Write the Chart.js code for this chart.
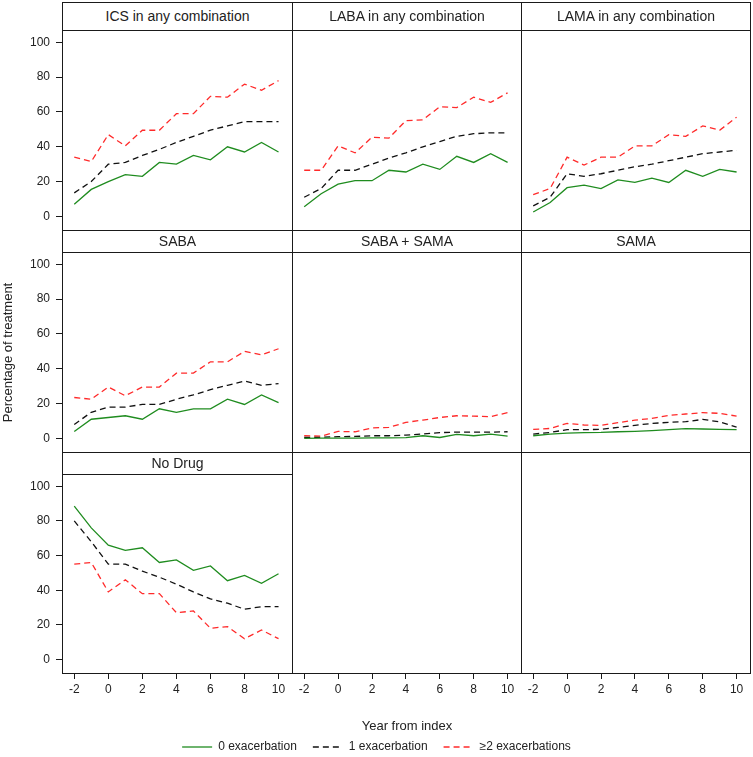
<!DOCTYPE html>
<html>
<head>
<meta charset="utf-8">
<title>Percentage of treatment by year from index</title>
<script src="https://cdn.jsdelivr.net/npm/chart.js@4.4.0/dist/chart.umd.min.js"></script>
<style>
    body { margin: 0; background: #fff; }
    #wrap { position: relative; width: 753px; height: 757px; overflow: hidden;
            font-family: "Liberation Sans", Arial, sans-serif; }
    #wrap canvas { position: absolute; }
    .strip { position: absolute; box-sizing: border-box; border: 1px solid #1a1a1a;
             text-align: center; font-size: 14px; color: #222; }
</style>
</head>
<body>
<div id="wrap"></div>
<script>
// data (percent of patients, by year from index)
var years = [-2, -1, 0, 1, 2, 3, 4, 5, 6, 7, 8, 9, 10];
var xTickValues = [-2, 0, 2, 4, 6, 8, 10];
var yTickValues = [0, 20, 40, 60, 80, 100];
var seriesNames = ['0 exacerbation', '1 exacerbation', '\u22652 exacerbations'];

var icsZero = [7, 15.5, 20, 24, 23, 31, 30, 35, 32.5, 40, 37, 42.5, 37];
var icsOne = [13.5, 20, 30, 31, 35, 38.5, 42.5, 46, 49.5, 52, 54.5, 54.5, 54.5];
var icsTwo = [34, 31.5, 47, 40.5, 49.5, 49.5, 59, 59, 69, 68.5, 76, 72.5, 78];

var labaZero = [5.5, 13, 18.5, 20.5, 20.5, 26.5, 25.5, 30, 27, 34.5, 31, 36, 31];
var labaOne = [11, 16, 26.5, 26.5, 30, 33.5, 36.5, 40, 43, 46, 47.5, 48, 48];
var labaTwo = [26.5, 26.5, 40.5, 36.5, 45.5, 45, 55, 55.5, 63, 62.5, 68.5, 65.5, 71];

var lamaZero = [2.5, 8, 16.5, 18, 16, 21, 19.5, 22, 19.5, 26.5, 23, 27, 25.5];
var lamaOne = [6, 11, 24.5, 23, 24.5, 26.5, 28.5, 30, 32, 34, 36, 37, 38];
var lamaTwo = [12.5, 16, 34, 29.5, 34, 34, 40.5, 40.5, 47, 46, 52, 49.5, 57];

var sabaZero = [4, 11, 12, 13, 11, 17, 15, 17, 17, 22.5, 19.5, 25, 20.5];
var sabaOne = [8, 15, 18, 18, 19.5, 19.5, 22.5, 25, 28, 30.5, 33, 30.5, 31.5];
var sabaTwo = [23.5, 22.5, 29.5, 24.5, 29.5, 29.5, 37.5, 37.5, 44, 44, 50, 48, 51.5];

var sabaSamaZero = [0, 0.1, 0.2, 0.2, 0.3, 0.3, 0.4, 1.5, 0.5, 2.3, 1.5, 2.5, 1.3];
var sabaSamaOne = [0.6, 0.6, 1, 1.1, 1.5, 1.5, 1.9, 2.5, 3.3, 3.6, 3.6, 3.6, 3.8];
var sabaSamaTwo = [1.5, 1.3, 4, 3.8, 6, 6.3, 9.2, 10.5, 12, 13, 12.8, 12.5, 14.8];

var samaZero = [1.5, 2.5, 3, 3.3, 3.4, 3.8, 4, 4.4, 5, 5.6, 5.4, 5.2, 5];
var samaOne = [2.5, 3.4, 5, 5, 5.2, 6.3, 7.5, 8.6, 9.2, 9.6, 10.9, 9.5, 6.5];
var samaTwo = [5.2, 5.7, 8.6, 7.7, 7.5, 9, 10.5, 11.5, 13.2, 14, 14.8, 14.4, 12.8];

var noDrugZero = [88.5, 76, 66, 63, 64.5, 56, 57.5, 51.5, 54, 45.5, 48.5, 44, 49.5];
var noDrugOne = [80, 68, 55, 55, 51, 47.5, 43.5, 39, 35, 32.5, 29, 30.5, 30.5];
var noDrugTwo = [55, 56, 39, 46, 38, 38, 27, 28, 18, 19, 12, 17, 12];

var panels = [
    { title: 'ICS in any combination', values: [icsZero, icsOne, icsTwo] },
    { title: 'LABA in any combination', values: [labaZero, labaOne, labaTwo] },
    { title: 'LAMA in any combination', values: [lamaZero, lamaOne, lamaTwo] },
    { title: 'SABA', values: [sabaZero, sabaOne, sabaTwo] },
    { title: 'SABA + SAMA', values: [sabaSamaZero, sabaSamaOne, sabaSamaTwo] },
    { title: 'SAMA', values: [samaZero, samaOne, samaTwo] },
    { title: 'No Drug', values: [noDrugZero, noDrugOne, noDrugTwo] },
    { title: null, values: [] },
    { title: null, values: [] }
];

// line styles for the three groups
var lineColors = ['#1f8c1f', '#111111', '#ff2a2a'];
var lineDashes = [[], [6, 4], [6, 4]];

// grid of panels
var colX = [62, 292, 521];
var colW = [230, 229, 229];
var stripTop = [2, 230, 452];
var panelTop = [30, 252, 474];
var panelBottom = [230, 452, 673];
var xMin = -2.72, xMax = 10.85;
var yMin = -8.4, yMax = 107.1;
var axisW = 62, axisH = 64;

Chart.defaults.font.family = '"Liberation Sans", Arial, sans-serif';
Chart.defaults.font.size = 12;
Chart.defaults.color = '#222';

var framePlugin = {
    id: 'frame',
    afterDraw: function (chart) {
        var a = chart.chartArea;
        var c = chart.ctx;
        c.save();
        c.strokeStyle = '#1a1a1a';
        c.lineWidth = 1;
        c.strokeRect(a.left + 0.5, a.top + 0.5, a.right - a.left - 1, a.bottom - a.top - 1);
        c.restore();
    }
};

var wrap = document.getElementById('wrap');

function makeCanvas(left, top, width, height) {
    var cv = document.createElement('canvas');
    cv.width = width;
    cv.height = height;
    cv.style.left = left + 'px';
    cv.style.top = top + 'px';
    cv.style.width = width + 'px';
    cv.style.height = height + 'px';
    wrap.appendChild(cv);
    return cv;
}

function makeStrip(text, left, top, width, height) {
    var d = document.createElement('div');
    d.className = 'strip';
    d.style.left = left + 'px';
    d.style.top = top + 'px';
    d.style.width = width + 'px';
    d.style.height = height + 'px';
    d.style.lineHeight = (height - 2) + 'px';
    d.textContent = text;
    wrap.appendChild(d);
}

function buildPanel(index) {
    var p = panels[index];
    var row = Math.floor(index / 3);
    var col = index % 3;
    var showY = col === 0;
    var showX = row === 2;
    var top = p.title ? panelTop[row] : stripTop[row];
    var left = showY ? 0 : colX[col];
    var width = (showY ? axisW : 0) + colW[col] + 1;
    var height = panelBottom[row] - top + 1 + (showX ? axisH : 0);

    if (p.title) {
        makeStrip(p.title, colX[col], stripTop[row], colW[col] + 1, panelTop[row] - stripTop[row] + 1);
    }

    var datasets = [];
    for (var i = 0; i < p.values.length; i++) {
        datasets.push({
            label: seriesNames[i],
            data: p.values[i].map(function (v, k) { return { x: years[k], y: v }; }),
            borderColor: lineColors[i],
            borderDash: lineDashes[i],
            borderWidth: 1.3,
            pointRadius: 0,
            tension: 0,
            fill: false
        });
    }

    var xScale = {
        type: 'linear', min: xMin, max: xMax, display: showX,
        afterBuildTicks: function (s) { s.ticks = xTickValues.map(function (v) { return { value: v }; }); },
        grid: { drawOnChartArea: false, drawTicks: true, tickLength: 5, color: '#1a1a1a', lineWidth: 1 },
        border: { display: false },
        ticks: { padding: 3, maxRotation: 0, autoSkip: false },
        title: { display: index === 7, text: 'Year from index', font: { size: 13 }, padding: { top: 0, bottom: 4 } }
    };
    if (showX) {
        xScale.afterFit = function (s) {
            s.height = axisH;
            s.paddingLeft = 0;
            s.paddingRight = 0;
        };
    }

    var yScale = {
        type: 'linear', min: yMin, max: yMax, display: showY,
        afterBuildTicks: function (s) { s.ticks = yTickValues.map(function (v) { return { value: v }; }); },
        grid: { drawOnChartArea: false, drawTicks: true, tickLength: 6, color: '#1a1a1a', lineWidth: 1 },
        border: { display: false },
        ticks: { padding: 6, autoSkip: false },
        title: { display: index === 3, text: 'Percentage of treatment', font: { size: 13 }, padding: { top: 1, bottom: 0 } }
    };
    if (showY) {
        // tick labels sit well inside the panel, so no extra room above/below
        yScale.afterFit = function (s) {
            s.width = axisW;
            s.paddingTop = 0;
            s.paddingBottom = 0;
        };
    }

    new Chart(makeCanvas(left, top, width, height), {
        type: 'line',
        data: { datasets: datasets },
        options: {
            responsive: false,
            animation: false,
            layout: { padding: 0 },
            scales: { x: xScale, y: yScale },
            plugins: { legend: { display: false }, tooltip: { enabled: false } }
        },
        plugins: [framePlugin]
    });
}

for (var n = 0; n < panels.length; n++) {
    buildPanel(n);
}

// shared legend along the bottom
var legendSets = seriesNames.map(function (name, i) {
    return { label: name, data: [], borderColor: lineColors[i], borderDash: lineDashes[i], borderWidth: 1.3 };
});
new Chart(makeCanvas(0, 725, 753, 90), {
    type: 'line',
    data: { datasets: legendSets },
    options: {
        responsive: false,
        animation: false,
        layout: { padding: 0 },
        scales: { x: { display: false }, y: { display: false } },
        plugins: {
            tooltip: { enabled: false },
            legend: {
                position: 'top',
                labels: {
                    usePointStyle: true,
                    pointStyleWidth: 30,
                    padding: 16,
                    font: { size: 12 },
                    generateLabels: function (chart) {
                        return chart.data.datasets.map(function (ds, i) {
                            return {
                                text: ds.label, datasetIndex: i, hidden: false,
                                strokeStyle: ds.borderColor, fillStyle: ds.borderColor,
                                lineWidth: ds.borderWidth, lineDash: ds.borderDash,
                                pointStyle: 'line', fontColor: '#222'
                            };
                        });
                    }
                }
            }
        }
    }
});
</script>
</body>
</html>
